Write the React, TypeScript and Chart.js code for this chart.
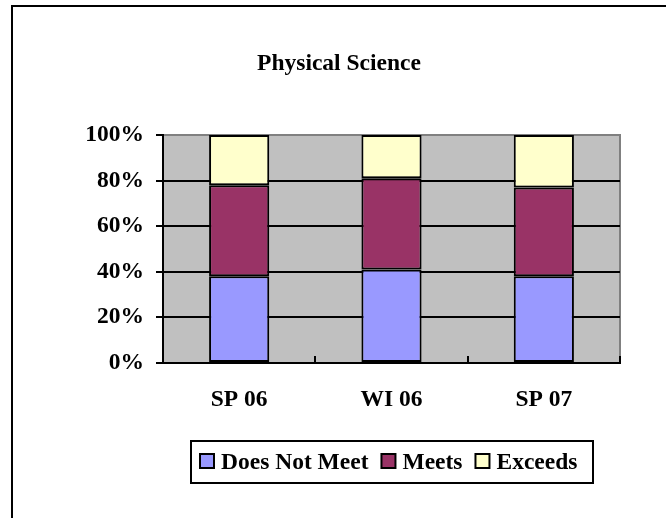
import React, { useEffect, useRef } from 'react';
import { Chart, registerables } from 'chart.js';

Chart.register(...registerables);

const TITLE = 'Physical Science';
const CATEGORIES = ['SP 06', 'WI 06', 'SP 07'];
const SERIES_NAMES = ['Does Not Meet', 'Meets', 'Exceeds'];
const DOES_NOT_MEET = [38, 41, 38];
const MEETS = [40, 40, 39];
const EXCEEDS = [22, 19, 23];
const SERIES_COLORS = ['#9999FF', '#993366', '#FFFFCC'];
const Y_MIN = 0;
const Y_MAX = 100;
const Y_STEP = 20;

const FONT = '"Liberation Serif", "Times New Roman", serif';

const framePlugin = {
  id: 'frame',
  beforeDraw(chart: any) {
    const { ctx, chartArea: ca } = chart;
    ctx.save();
    ctx.fillStyle = '#000';
    ctx.fillRect(11, 5, chart.width - 11, 2);
    ctx.fillRect(11, 5, 2, chart.height - 5);
    ctx.fillStyle = '#C0C0C0';
    ctx.fillRect(ca.left, ca.top, ca.right - ca.left, ca.bottom - ca.top);
    ctx.strokeStyle = '#808080';
    ctx.lineWidth = 2;
    ctx.strokeRect(ca.left, ca.top, ca.right - ca.left, ca.bottom - ca.top);
    ctx.restore();
  },
  afterDraw(chart: any) {
    const { ctx, chartArea: ca } = chart;
    const xs = chart.scales.x;
    const n = chart.data.labels.length;
    ctx.save();
    ctx.strokeStyle = '#000';
    ctx.lineWidth = 2;
    for (let i = 1; i <= n; i++) {
      const x = Math.round(xs.getPixelForValue(i - 0.5));
      ctx.beginPath();
      ctx.moveTo(x, ca.bottom);
      ctx.lineTo(x, ca.bottom - 7);
      ctx.stroke();
    }
    // legend
    const ds = chart.data.datasets;
    ctx.font = `bold 23.5px ${FONT}`;
    const sq = 14;
    const gapText = 7;
    const gapItem = 13;
    const widths = ds.map((d: any) => sq + gapText + ctx.measureText(d.label).width);
    const total = widths.reduce((a: number, b: number) => a + b, 0) + gapItem * (ds.length - 1);
    const cx = (ca.left + ca.right) / 2;
    const boxW = Math.round(total + 25);
    const boxTop = ca.bottom + 78;
    const boxH = 42;
    const boxLeft = Math.round(cx - boxW / 2);
    ctx.lineWidth = 2;
    ctx.strokeStyle = '#000';
    ctx.strokeRect(boxLeft, boxTop, boxW, boxH);
    let x = boxLeft + 9;
    const cy = boxTop + boxH / 2;
    ds.forEach((d: any, i: number) => {
      ctx.fillStyle = d.backgroundColor;
      ctx.fillRect(x, cy - sq / 2 - 1, sq, sq);
      ctx.strokeRect(x, cy - sq / 2 - 1, sq, sq);
      ctx.fillStyle = '#000';
      ctx.textBaseline = 'middle';
      ctx.textAlign = 'left';
      ctx.fillText(d.label, x + sq + gapText, cy + 1);
      x += widths[i] + gapItem;
    });
    ctx.restore();
  },
};

export default function App() {
  const ref = useRef<HTMLCanvasElement | null>(null);
  useEffect(() => {
    if (!ref.current) return;
    const seriesValues = [DOES_NOT_MEET, MEETS, EXCEEDS];
    const chart = new Chart(ref.current, {
      type: 'bar',
      data: {
        labels: CATEGORIES,
        datasets: SERIES_NAMES.map((name, i) => ({
          label: name,
          data: seriesValues[i],
          backgroundColor: SERIES_COLORS[i],
          borderColor: '#000',
          borderWidth: 2,
          borderSkipped: false,
          categoryPercentage: 1,
          barPercentage: 0.395,
        })),
      },
      options: {
        animation: false,
        responsive: false,
        devicePixelRatio: 1,
        layout: { padding: { left: 58, right: 46, top: 0, bottom: 0 } },
        plugins: {
          legend: { display: false },
          tooltip: { enabled: false },
          title: {
            display: true,
            text: TITLE,
            color: '#000',
            font: { family: FONT, size: 23.5, weight: 'bold' },
            padding: { top: 50, bottom: 56.8 },
          },
        },
        scales: {
          x: {
            stacked: true,
            grid: { display: true, drawOnChartArea: false, drawTicks: false },
            border: { display: true, color: '#000', width: 2 },
            ticks: {
              color: '#000',
              padding: 23,
              font: { family: FONT, size: 23.5, weight: 'bold' },
            },
            afterFit: (s: any) => {
              s.height = 155;
            },
          },
          y: {
            stacked: true,
            min: Y_MIN,
            max: Y_MAX,
            ticks: {
              stepSize: Y_STEP,
              color: '#000',
              padding: 12,
              font: { family: FONT, size: 23.5, weight: 'bold' },
              callback: (v: any) => `${v}%`,
            },
            grid: {
              color: (c: any) => (c.tick && c.tick.value === Y_MAX ? '#808080' : '#000'),
              lineWidth: 2,
              tickColor: '#000',
              tickWidth: 2,
              tickLength: 7,
            },
            border: { display: true, color: '#000', width: 2 },
            afterFit: (s: any) => {
              s.width = 163 - 58;
            },
          },
        },
      },
      plugins: [framePlugin],
    });
    return () => chart.destroy();
  }, []);
  return (
    <div style={{ position: 'fixed', left: 0, top: 0, width: 666, height: 518, background: '#fff' }}>
      <canvas ref={ref} width={666} height={518} style={{ display: 'block' }} />
    </div>
  );
}
